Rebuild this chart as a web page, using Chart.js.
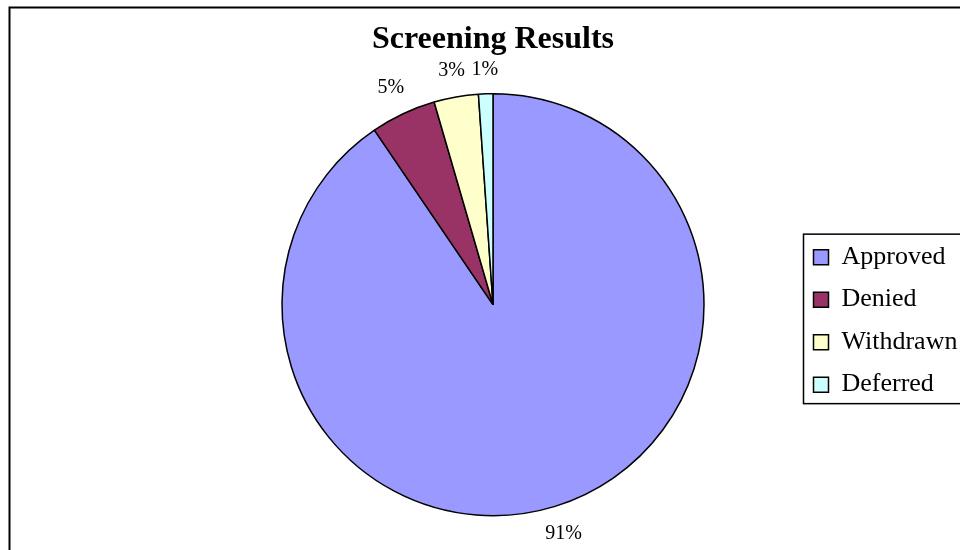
<!DOCTYPE html>
<html>
<head>
<meta charset="utf-8">
<title>Screening Results</title>
<script src="https://cdn.jsdelivr.net/npm/chart.js@4/dist/chart.umd.min.js"></script>
<style>
    html, body { margin: 0; padding: 0; background: #ffffff; }
    #chartBox { width: 960px; height: 550px; }
</style>
</head>
<body>
<div id="chartBox"><canvas id="pieChart" width="960" height="550"></canvas></div>
<script>
// Данные диаграммы
const categories = ['Approved', 'Denied', 'Withdrawn', 'Deferred'];
const shares = [90.5, 5.0, 3.4, 1.1];
const sliceColors = ['#9999FF', '#993366', '#FFFFCC', '#CCFFFF'];

const serif = "'Liberation Serif', 'Times New Roman', serif";

// Рамка вокруг всей диаграммы (уходит за правый и нижний край)
const framePlugin = {
    id: 'frame',
    beforeDraw(chart) {
        const ctx = chart.ctx;
        ctx.save();
        ctx.strokeStyle = '#000000';
        ctx.lineWidth = 2;
        ctx.beginPath();
        ctx.moveTo(9.5, chart.height + 5);
        ctx.lineTo(9.5, 7.5);
        ctx.lineTo(chart.width + 5, 7.5);
        ctx.stroke();
        ctx.restore();
    }
};

// Рамка легенды
const legendBoxPlugin = {
    id: 'legendBox',
    afterDraw(chart) {
        const boxes = chart.legend.legendHitBoxes;
        if (!boxes || !boxes.length) return;
        const first = boxes[0];
        const last = boxes[boxes.length - 1];
        const ctx = chart.ctx;
        ctx.save();
        ctx.strokeStyle = '#000000';
        ctx.lineWidth = 1.5;
        ctx.strokeRect(first.left - 10, first.top - 10, chart.width, last.top + last.height - first.top + 16);
        ctx.restore();
    }
};

// Подписи процентов снаружи круга
const percentLabels = {
    id: 'percentLabels',
    afterDatasetsDraw(chart) {
        const ctx = chart.ctx;
        const meta = chart.getDatasetMeta(0);
        const total = shares.reduce((a, b) => a + b, 0);
        ctx.save();
        ctx.font = '20px ' + serif;
        ctx.fillStyle = '#000000';
        ctx.textAlign = 'center';
        ctx.textBaseline = 'middle';
        meta.data.forEach((arc, i) => {
            const text = Math.round(shares[i] / total * 100) + '%';
            const mid = (arc.startAngle + arc.endAngle) / 2;
            const cx = Math.cos(mid);
            const cy = Math.sin(mid);
            const w = ctx.measureText(text).width;
            const dist = arc.outerRadius + 14 + Math.abs(cx) * w / 2 + Math.abs(cy) * 10;
            ctx.fillText(text, arc.x + cx * dist, arc.y + cy * dist);
        });
        ctx.restore();
    }
};

const ctx = document.getElementById('pieChart').getContext('2d');
const chart = new Chart(ctx, {
    type: 'pie',
    data: {
        labels: categories,
        datasets: [{
            data: shares,
            backgroundColor: sliceColors,
            borderColor: '#000000',
            borderWidth: 1.5,
            radius: 211
        }]
    },
    options: {
        responsive: false,
        animation: false,
        layout: {
            padding: { left: 189, right: 2, top: 8, bottom: 7 }
        },
        plugins: {
            title: {
                display: true,
                text: 'Screening Results',
                fullSize: false,
                color: '#000000',
                font: { family: serif, size: 32, weight: 'bold' },
                padding: { top: 13, bottom: 7 }
            },
            legend: {
                position: 'right',
                fullSize: false,
                maxWidth: 161,
                title: {
                    display: true,
                    text: '',
                    font: { size: 12 },
                    padding: { top: 18, bottom: 0 }
                },
                labels: {
                    color: '#000000',
                    font: { family: serif, size: 26 },
                    boxWidth: 15,
                    boxHeight: 15,
                    padding: 16.5
                }
            },
            tooltip: { enabled: false }
        }
    },
    plugins: [framePlugin, legendBoxPlugin, percentLabels]
});
</script>
</body>
</html>
